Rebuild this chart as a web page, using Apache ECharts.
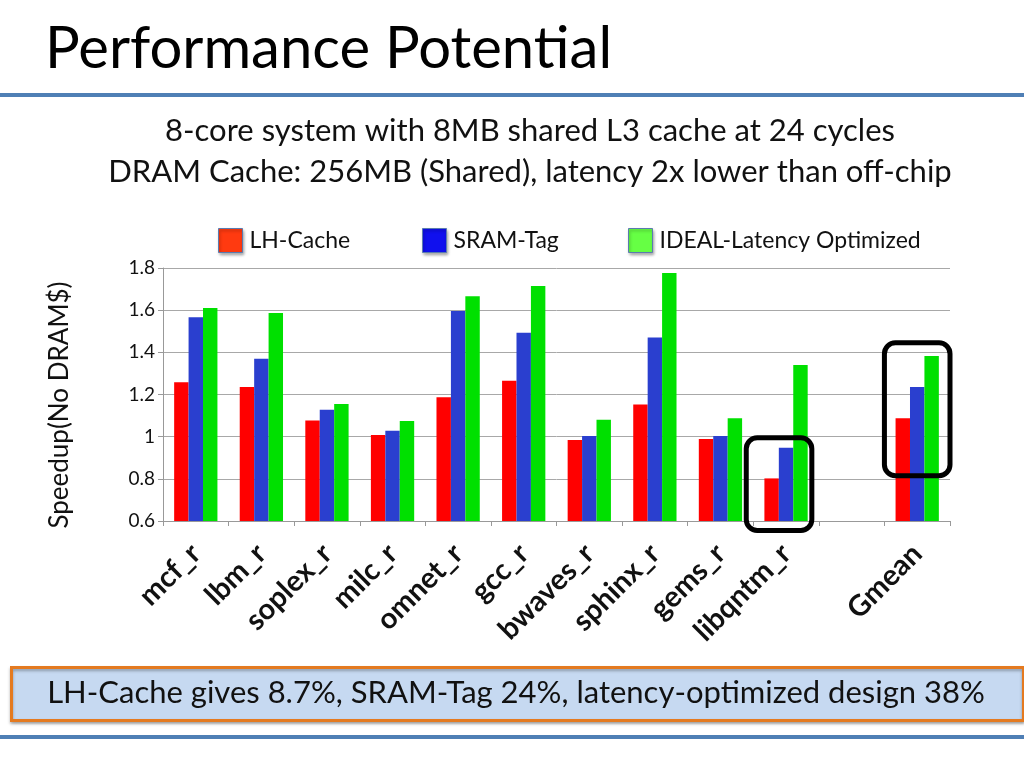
<!DOCTYPE html>
<html>
<head>
<meta charset="utf-8">
<script src="https://cdn.jsdelivr.net/npm/echarts@6/dist/echarts.min.js"></script>
<style>
  html, body { margin: 0; padding: 0; background: #fff; }
  #chart { width: 1024px; height: 768px; }
</style>
</head>
<body>
<div id="chart"></div>
<script>
// benchmarks, with an empty slot before the geometric mean
const categories = ['mcf_r', 'lbm_r', 'soplex_r', 'milc_r', 'omnet_r', 'gcc_r', 'bwaves_r', 'sphinx_r', 'gems_r', 'libqntm_r', '', 'Gmean'];
const lhCache = [1.258, 1.235, 1.077, 1.008, 1.187, 1.265, 0.984, 1.152, 0.989, 0.802, '-', 1.087];
const sramTag = [1.566, 1.370, 1.128, 1.028, 1.596, 1.493, 1.003, 1.470, 1.003, 0.948, '-', 1.235];
const idealLatency = [1.610, 1.587, 1.155, 1.074, 1.666, 1.715, 1.080, 1.776, 1.087, 1.340, '-', 1.383];
const yTicks = [0.6, 0.8, 1, 1.2, 1.4, 1.6, 1.8];
// highlighted groups: [category, low value, high value]
const highlights = [['libqntm_r', 0.555, 0.995], ['Gmean', 0.815, 1.445]];

const chart = echarts.init(document.getElementById('chart'), null, { renderer: 'canvas' });
const font = 'Lato, "Open Sans", sans-serif';

function legendAt(name, color, left) {
  return {
    data: [{ name: name, itemStyle: { color: color, borderColor: '#5a7bb0', borderWidth: 1, shadowBlur: 3, shadowColor: 'rgba(0,0,0,0.35)', shadowOffsetX: 1, shadowOffsetY: 2 } }],
    left: left, top: 228, padding: 0, itemWidth: 24, itemHeight: 24, itemGap: 0,
    icon: 'rect',
    textStyle: { fontFamily: font, fontSize: 23, color: '#111', padding: [0, 0, 0, 2] }
  };
}

const frame = [
  { id: 'title', type: 'text', left: 45, top: 20, style: { text: 'Performance Potential', fill: '#000', fontFamily: font, fontSize: 58, fontWeight: 'normal' } },
  { id: 'topRule', type: 'rect', left: 0, top: 93, shape: { width: 1024, height: 4 }, style: { fill: '#4f7fb5' } },
  { id: 'subtitle', type: 'text', x: 530, y: 110, style: { text: '8-core system with 8MB shared L3 cache at 24 cycles\nDRAM Cache: 256MB (Shared), latency 2x lower than off-chip', fill: '#111', fontFamily: font, fontSize: 31, textAlign: 'center', lineHeight: 41 } },
  { id: 'noteBox', type: 'rect', left: 10, top: 666, shape: { width: 1012, height: 53 }, style: { fill: '#c6d9f1', stroke: '#e47a20', lineWidth: 3, shadowBlur: 3, shadowColor: 'rgba(0,0,0,0.3)', shadowOffsetY: 2 } },
  { id: 'note', type: 'text', x: 516, y: 677, style: { text: 'LH-Cache gives 8.7%, SRAM-Tag 24%, latency-optimized design 38%', fill: '#111', fontFamily: font, fontSize: 31, textAlign: 'center' } },
  { id: 'bottomRule', type: 'rect', left: 0, top: 735, shape: { width: 1024, height: 4 }, style: { fill: '#4f7fb5' } }
];

chart.setOption({
  animation: false,
  textStyle: { fontFamily: font },
  grid: { left: 163, right: 74, top: 268, bottom: 247 },
  legend: [
    legendAt('LH-Cache', '#ff3a10', 218),
    legendAt('SRAM-Tag', '#1010ee', 422),
    legendAt('IDEAL-Latency Optimized', '#66ff44', 628)
  ],
  xAxis: {
    type: 'category',
    data: categories,
    boundaryGap: true,
    axisLine: { lineStyle: { color: '#999', width: 1 } },
    axisTick: { show: true, length: 5, alignWithLabel: false, lineStyle: { color: '#999' } },
    axisLabel: { interval: 0, rotate: 45, margin: 28, fontFamily: font, fontSize: 29, fontWeight: 'bold', color: '#111' }
  },
  yAxis: {
    type: 'value',
    min: 0.6, max: 1.8, interval: 0.2,
    name: 'Speedup(No DRAM$)',
    nameLocation: 'middle', nameGap: 90, nameRotate: 90,
    nameTextStyle: { fontFamily: font, fontSize: 26, color: '#111', padding: [0, 21, 0, 0] },
    axisLine: { show: true, lineStyle: { color: '#999' } },
    axisTick: { show: true, length: 5, lineStyle: { color: '#999' } },
    axisLabel: { fontFamily: font, fontSize: 19, color: '#111', margin: 8,
      formatter: v => yTicks.find(t => Math.abs(t - v) < 1e-6) !== undefined ? String(+v.toFixed(1)) : '' },
    splitLine: { lineStyle: { color: '#a8a8a8', width: 1 } }
  },
  series: [
    { name: 'LH-Cache', type: 'bar', data: lhCache, barGap: '0%', barCategoryGap: '34%', itemStyle: { color: '#ff0000' } },
    { name: 'SRAM-Tag', type: 'bar', data: sramTag, barGap: '0%', barCategoryGap: '34%', itemStyle: { color: '#2a3fcf' } },
    { name: 'IDEAL-Latency Optimized', type: 'bar', data: idealLatency, barGap: '0%', barCategoryGap: '34%', itemStyle: { color: '#00e000' } }
  ],
  graphic: frame
});

// rounded outline boxes around highlighted groups, placed through the axis scales
const bw = chart.getModel().getComponent('xAxis', 0).axis.getBandWidth();
const boxNudge = [-7, 0];
const boxes = highlights.map(([cat, lo, hi], i) => {
  const idx = categories.indexOf(cat);
  const [cx, yTop] = chart.convertToPixel({ gridIndex: 0 }, [idx, hi]);
  const [, yBot] = chart.convertToPixel({ gridIndex: 0 }, [idx, lo]);
  return {
    id: 'box' + i, type: 'rect', z: 100,
    shape: { x: cx - bw / 2 + boxNudge[i], y: yTop, width: bw, height: yBot - yTop, r: 11 },
    style: { fill: 'none', stroke: '#000', lineWidth: 5 }
  };
});
chart.setOption({ graphic: frame.concat(boxes) });
</script>
</body>
</html>
